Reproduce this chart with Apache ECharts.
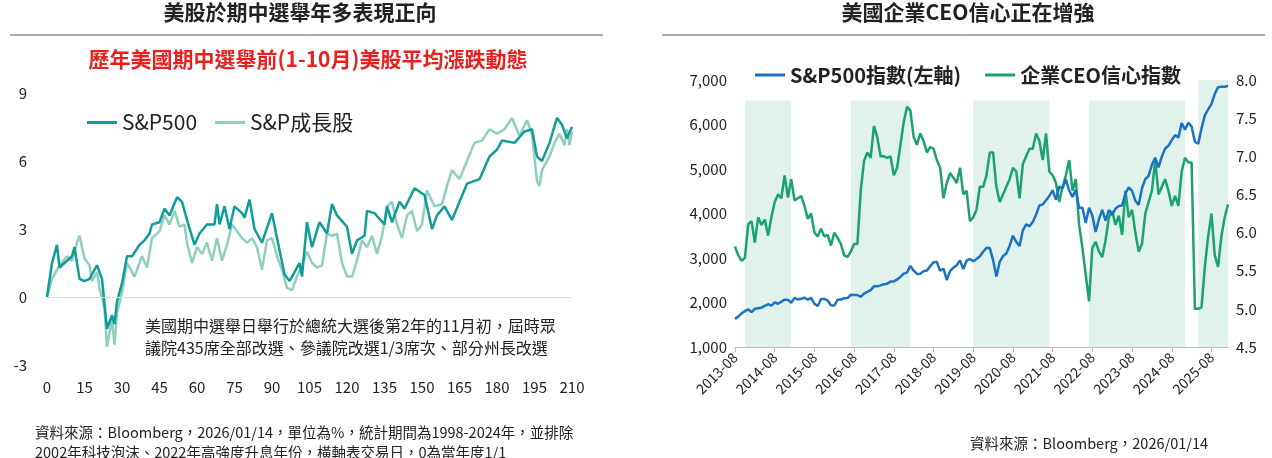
<!DOCTYPE html><html><head><meta charset="utf-8">
<script src="https://cdn.jsdelivr.net/npm/echarts@6/dist/echarts.min.js"></script>
<style>body{margin:0}#c{width:1272px;height:458px}</style></head><body><div id="c"></div>
<script>
const spxDays=[0,2,4,5,8,10,11,13,15,17,20,22,24,26,27,28,30,32,34,37,39,41,42,45,47,49,52,54,56,59,61,64,67,68,69,71,73,75,78,79,81,83,86,90,92,95,97,101,102,104,106,109,112,114,116,120,122,124,127,128,131,135,136,138,141,143,147,151,154,156,159,162,165,168,173,177,180,182,187,191,194,196,198,201,204,206,208,210];
const spxVals=[0,1.5,2.3,1.3,1.6,1.8,2.2,0.8,0.7,0.8,1.4,0.8,-1.4,-0.8,-1.2,-0.2,0.6,1.8,1.8,2.3,2.5,2.8,3.2,3.3,3.9,3.6,4.4,4.2,3.4,2.3,2.8,3.2,3.2,4.1,3.2,4.0,3.0,4.0,3.7,3.5,4.3,3.0,2.4,3.7,2.6,1.0,0.7,1.5,0.9,3.3,2.2,3.3,2.8,4.1,3.6,3.1,1.9,2.5,2.7,3.8,3.7,3.2,4.0,3.3,4.2,3.9,4.8,4.5,3.0,3.6,4.0,3.4,4.2,5.0,5.2,6.2,6.5,6.9,6.8,7.3,7.4,6.2,6.0,6.8,7.9,7.6,7.0,7.5];
const grDays=[0,2,5,8,10,12,13,15,17,18,20,21,23,24,26,27,28,30,32,35,38,40,42,45,47,49,51,53,55,56,58,60,62,64,66,68,70,72,74,76,78,80,82,84,86,88,90,92,94,96,98,100,102,104,106,108,110,112,114,116,118,120,122,124,126,128,130,132,134,136,138,140,142,144,146,148,150,152,155,158,160,162,165,168,171,174,177,180,183,186,189,192,194,196,197,198,201,203,205,207,208,209,210];
const grVals=[0,0.8,1.4,1.8,1.6,2.4,2.7,1.7,1.4,0.7,1.1,0.4,-0.5,-2.2,-1.0,-2.1,-0.7,0.2,1.5,0.9,1.8,1.3,2.6,2.9,3.6,3.2,3.8,3.1,3.2,2.4,1.5,2.2,1.9,2.4,1.6,2.6,1.6,2.3,3.2,2.9,2.6,2.4,2.6,2.2,1.2,2.5,2.6,1.8,1.2,0.4,0.3,0.9,1.4,2.0,1.5,1.3,1.4,2.8,2.7,2.8,1.5,0.9,0.9,1.6,2.5,2.2,2.7,1.9,2.7,4.0,4.2,3.2,2.6,3.6,3.8,2.9,3.2,4.7,4.0,4.1,4.9,5.6,5.2,6.0,6.8,6.9,7.4,7.2,7.4,7.9,7.1,7.8,7.2,5.1,4.9,5.6,6.2,6.8,7.2,6.7,7.4,6.7,7.3];
const leftXTicks=[0,15,30,45,60,75,90,105,120,135,150,165,180,195,210];
const leftYTicks=[-3,0,3,6,9];

const months=[];for(let i=0;i<150;i++){const y=2013+Math.floor((7+i)/12),m=(7+i)%12+1;months.push(y+'-'+String(m).padStart(2,'0'));}
const spIndex=[1633,1682,1757,1806,1848,
1783,1859,1872,1884,1924,1960,1931,2003,1972,2018,2068,2059,
1995,2105,2068,2086,2107,2063,2104,1972,1920,2079,2080,2044,
1940,1932,2060,2065,2097,2099,2174,2171,2168,2126,2199,2239,
2279,2364,2363,2384,2412,2423,2470,2472,2519,2575,2648,2674,
2824,2714,2641,2648,2705,2718,2816,2902,2914,2712,2760,2507,
2704,2784,2834,2946,2752,2942,2980,2926,2977,3038,3141,3231,
3226,2954,2585,2912,3044,3100,3271,3500,3363,3270,3622,3756,
3714,3811,3973,4181,4204,4298,4395,4523,4308,4605,4567,4766,
4516,4374,4530,4132,4132,3785,4130,3955,3586,3872,4080,3840,
4077,3970,4109,4169,4180,4450,4589,4508,4288,4194,4568,4770,
4846,5096,5254,5036,5278,5460,5522,5648,5762,5705,6032,5882,
6041,5955,5612,5569,5912,6205,6339,6460,6688,6840,6849,6846,6870];
const ceoIndex=[5.82,5.7,5.63,5.67,6.11,6.15,5.87,6.2,6.1,6.17,5.96,6.2,6.4,6.5,6.45,6.75,6.46,6.7,6.42,6.45,6.48,6.35,6.18,6.25,6.0,5.95,6.05,5.95,5.97,5.83,6.0,5.93,5.85,5.7,5.68,5.75,5.85,5.85,6.55,6.94,7.05,6.98,7.4,7.25,7.0,7.0,6.98,7.0,6.75,6.85,7.15,7.45,7.65,7.6,7.25,7.15,7.3,7.2,7.05,7.12,7.1,6.95,6.85,6.45,6.65,6.78,6.72,6.65,6.85,6.5,6.55,6.15,6.2,6.3,6.6,6.6,6.75,7.05,7.05,6.6,6.4,6.5,6.6,6.7,6.85,6.8,6.45,6.9,7.0,7.1,7.1,7.3,7.2,6.95,7.3,6.8,6.75,6.65,6.4,6.6,6.75,6.95,6.55,6.7,6.1,5.8,5.45,5.1,5.8,5.88,5.75,5.68,5.9,6.2,6.28,6.1,6.22,5.97,6.55,6.2,6.3,6.0,5.75,5.85,6.25,6.4,6.55,6.95,6.5,6.6,6.7,6.55,6.35,6.48,6.35,6.8,6.98,6.92,6.92,5.0,5.0,5.02,5.55,5.95,6.25,5.7,5.55,5.95,6.2,6.37];
const shades=[['2013-11','2015-01'],['2016-07','2018-01'],['2019-08','2021-07'],['2022-07','2024-12'],['2025-04','2026-01']];

const F='"Noto Sans CJK TC","Noto Sans",sans-serif';
const chart=echarts.init(document.getElementById('c'));
const pair=(d,v)=>d.map((x,i)=>[x,v[i]]);
chart.setOption({
 animation:false,textStyle:{fontFamily:F},
 graphic:[
  {type:'text',x:300,y:2,style:{text:'美股於期中選舉年多表現正向',font:'bold 21px '+F,fill:'#222',textAlign:'center'}},
  {type:'line',shape:{x1:10,y1:35,x2:603,y2:35},style:{stroke:'#555',lineWidth:1}},
  {type:'text',x:308,y:49,style:{text:'歷年美國期中選舉前(1-10月)美股平均漲跌動態',font:'bold 21px '+F,fill:'#e8201e',textAlign:'center'}},
  {type:'text',left:145,top:315,style:{text:'美國期中選舉日舉行於總統大選後第2年的11月初，屆時眾\n議院435席全部改選、參議院改選1/3席次、部分州長改選',font:'16px '+F,fill:'#222',lineHeight:22}},
  {type:'text',left:35,top:422,style:{text:'資料來源：Bloomberg，2026/01/14，單位為%，統計期間為1998-2024年，並排除\n2002年科技泡沫、2022年高強度升息年份，橫軸表交易日，0為當年度1/1',font:'14.5px '+F,fill:'#222',lineHeight:20}},
  {type:'text',x:968,y:2,style:{text:'美國企業CEO信心正在增強',font:'bold 21px '+F,fill:'#222',textAlign:'center'}},
  {type:'line',shape:{x1:662,y1:35,x2:1265,y2:35},style:{stroke:'#555',lineWidth:1}},
  {type:'text',left:970,top:436,style:{text:'資料來源：Bloomberg，2026/01/14',font:'14.5px '+F,fill:'#222'}}
 ],
 legend:[
  {left:82,top:107,itemWidth:30,itemHeight:3,itemGap:18,textStyle:{fontSize:21,fontFamily:F,color:'#222'},icon:'rect',data:['S&P500','S&P成長股']},
  {left:750,top:60,itemWidth:30,itemHeight:3,itemGap:24,textStyle:{fontSize:20,fontFamily:F,color:'#222',fontWeight:'bold'},icon:'rect',data:['S&P500指數(左軸)','企業CEO信心指數']}
 ],
 grid:[{left:47,top:93,width:525,height:272},{left:735,top:80,width:493,height:267}],
 xAxis:[
  {gridIndex:0,type:'value',min:0,max:210,interval:15,axisLine:{show:false},axisTick:{show:false},splitLine:{show:false},axisLabel:{fontSize:15,color:'#222',margin:15}},
  {gridIndex:1,type:'category',data:months,boundaryGap:false,axisLine:{lineStyle:{color:'#bbb'}},axisTick:{interval:11,alignWithLabel:true,lineStyle:{color:'#bbb'}},axisLabel:{interval:11,rotate:45,fontSize:14,color:'#222'}}
 ],
 yAxis:[
  {gridIndex:0,type:'value',min:-3,max:9,interval:3,splitLine:{show:false},axisLine:{show:false},axisTick:{show:false},axisLabel:{fontSize:15,color:'#222',margin:20,align:'right'}},
  {gridIndex:1,type:'value',min:1000,max:7000,interval:1000,splitLine:{show:false},axisLabel:{fontSize:15,color:'#222',formatter:v=>v.toLocaleString('en-US')}},
  {gridIndex:1,type:'value',min:4.5,max:8.0,interval:0.5,position:'right',splitLine:{show:false},axisLabel:{fontSize:15,color:'#222',formatter:v=>v.toFixed(1)}}
 ],
 series:[
  {name:'S&P成長股',type:'line',xAxisIndex:0,yAxisIndex:0,data:pair(grDays,grVals),showSymbol:false,lineStyle:{width:2.5,color:'#8fcfbd'},itemStyle:{color:'#8fcfbd'},z:2,
   markLine:{silent:true,symbol:'none',label:{show:false},lineStyle:{color:'#ddd',type:'solid',width:1},data:[{yAxis:0}]}},
  {name:'S&P500',type:'line',xAxisIndex:0,yAxisIndex:0,data:pair(spxDays,spxVals),showSymbol:false,lineStyle:{width:2.5,color:'#0f9c9a'},itemStyle:{color:'#0f9c9a'},z:3},
  {name:'S&P500指數(左軸)',type:'line',xAxisIndex:1,yAxisIndex:1,data:spIndex,showSymbol:false,lineStyle:{width:2.5,color:'#1a73c0'},itemStyle:{color:'#1a73c0'},z:3,
   markArea:{silent:true,itemStyle:{color:'#e1f1ec'},data:shades.map((s,i)=>[{xAxis:s[0],yAxis:i===4?7000:6540},{xAxis:s[1],yAxis:1000}])}},
  {name:'企業CEO信心指數',type:'line',xAxisIndex:1,yAxisIndex:2,data:ceoIndex,showSymbol:false,lineStyle:{width:2.5,color:'#1aa36f'},itemStyle:{color:'#1aa36f'},z:2}
 ]
});
</script></body></html>
